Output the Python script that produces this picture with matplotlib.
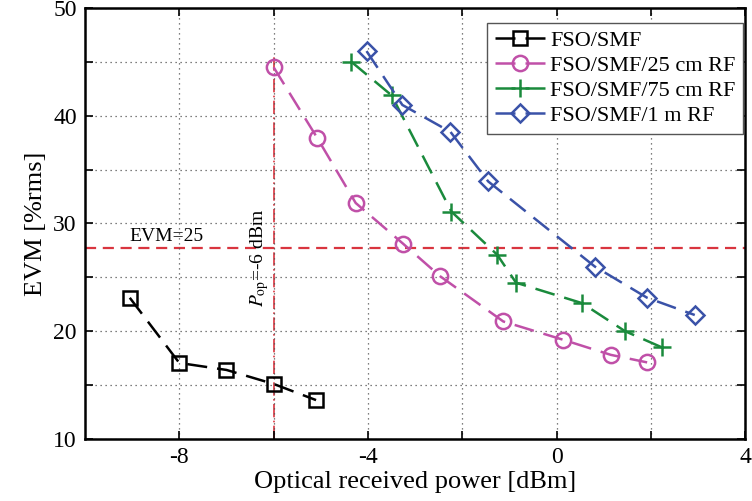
import matplotlib.pyplot as plt

plt.rcParams['font.family'] = ['Liberation Serif', 'DejaVu Serif']
plt.rcParams['mathtext.fontset'] = 'stix'

# Data
smf_x = [-9.05, -8.0, -7.0, -6.0, -5.1]
smf_y = [23.1, 17.05, 16.4, 15.1, 13.6]

rf25_x = [-6.0, -5.07, -4.26, -3.25, -2.47, -1.13, 0.14, 1.15, 1.92]
rf25_y = [44.5, 37.9, 31.9, 28.1, 25.1, 20.9, 19.2, 17.8, 17.1]

rf75_x = [-4.35, -3.5, -2.23, -1.26, -0.86, 0.54, 1.45, 2.23]
rf75_y = [45.0, 41.9, 31.1, 27.1, 24.5, 22.6, 20.0, 18.5]

rf1m_x = [-4.03, -3.27, -2.25, -1.45, 0.81, 1.92, 2.93]
rf1m_y = [46.0, 41.0, 38.5, 33.9, 26.0, 23.1, 21.5]

evm_limit = 27.7
p_op = -6

fig = plt.figure(figsize=(7.52, 5.01), dpi=100)
ax = fig.add_axes([0.113, 0.124, 0.878, 0.86])

red = '#d9353f'
ax.axhline(evm_limit, color=red, lw=1.6, ls=(0, (5, 3)), zorder=1)
ax.plot([p_op, p_op], [10, 45.5], color=red, lw=1.2, ls=(0, (8, 2, 1, 2)), zorder=1)

dash = (0, (8, 4))
style = dict(lw=1.8, ls=dash, mfc='none', mew=1.8, zorder=3)
ax.plot(smf_x, smf_y, color='black', marker='s', ms=10, label='FSO/SMF', **style)
ax.plot(rf25_x, rf25_y, color='#c050a8', marker='o', ms=11, label='FSO/SMF/25 cm RF', **style)
ax.plot(rf75_x, rf75_y, color='#1a8a3c', marker='+', ms=13, label='FSO/SMF/75 cm RF', **style)
ax.plot(rf1m_x, rf1m_y, color='#3a52a8', marker='D', ms=9, label='FSO/SMF/1 m RF', **style)

ax.text(-9.05, 28.0, 'EVM=25', fontsize=14, ha='left', va='bottom')
ax.text(-6.05, 22.2, r'$P_{\rm op}$=-6 dBm', fontsize=14, rotation=90,
        ha='right', va='bottom')

ax.set_xlim(-10, 4)
ax.set_ylim(10, 50)
xt = [-8, -6, -4, -2, 0, 2, 4]
ax.set_xticks(xt)
ax.set_xticklabels(['-8', '', '-4', '', '0', '', '4'])
ax.set_yticks([10, 15, 20, 25, 30, 35, 40, 45, 50])
ax.set_yticklabels(['10', '', '20', '', '30', '', '40', '', '50'])
ax.tick_params(direction='in', length=6, width=1.2, labelsize=17, top=True, right=True, pad=6)
ax.grid(True, ls=(0, (1, 3)), color='#555555', lw=0.9)
for s in ax.spines.values():
    s.set_linewidth(1.8)

ax.set_xlabel('Optical received power [dBm]', fontsize=19, labelpad=2)
ax.set_ylabel('EVM [%rms]', fontsize=19, labelpad=4)

leg = ax.legend(loc='upper right', bbox_to_anchor=(0.997, 0.966), fontsize=16,
                handlelength=2.3, fancybox=False, framealpha=1, edgecolor='#555555',
                borderaxespad=0.0, labelspacing=0.2, handletextpad=0.2, borderpad=0.35)
leg.get_frame().set_linewidth(1.0)

fig.savefig('out.png', dpi=100)
